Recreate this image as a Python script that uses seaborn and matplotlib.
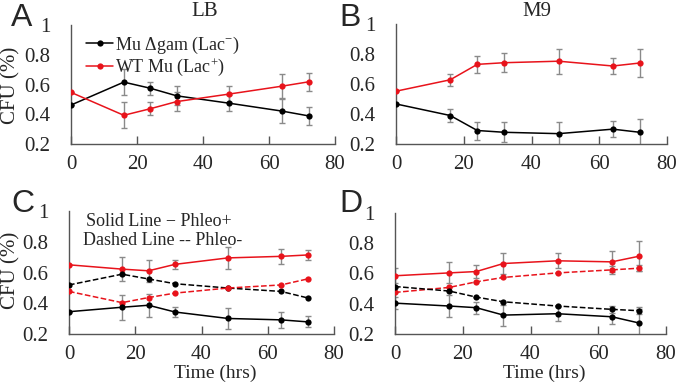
import numpy as np
import pandas as pd
import matplotlib
matplotlib.use("Agg")
import matplotlib.pyplot as plt
import seaborn as sns

sns.set_theme(style="ticks")
plt.rcParams['font.family'] = ['Liberation Serif', 'DejaVu Serif']
plt.rcParams['mathtext.fontset'] = 'custom'
plt.rcParams['mathtext.rm'] = 'Liberation Serif'
plt.rcParams['mathtext.it'] = 'Liberation Serif:italic'

time = [0, 16, 24, 32, 48, 64, 72]

# Panel A (LB)
a_mu = [0.462, 0.616, 0.575, 0.524, 0.474, 0.421, 0.389]
a_mu_err = [0.0, 0.087, 0.045, 0.065, 0.053, 0.08, 0.063]
a_wt = [0.547, 0.393, 0.437, 0.485, 0.536, 0.589, 0.618]
a_wt_err = [0.0, 0.088, 0.044, 0.065, 0.053, 0.08, 0.06]

# Panel B (M9)
b_mu = [0.467, 0.39, 0.29, 0.278, 0.269, 0.299, 0.278]
b_mu_err = [0.0, 0.041, 0.06, 0.067, 0.08, 0.053, 0.09]
b_wt = [0.552, 0.628, 0.731, 0.742, 0.752, 0.72, 0.74]
b_wt_err = [0.0, 0.04, 0.058, 0.064, 0.084, 0.054, 0.095]

# Panel C (LB, phleo)
c_wt_solid = [0.65, 0.622, 0.611, 0.653, 0.695, 0.705, 0.714]
c_wt_solid_err = [0.0, 0.08, 0.07, 0.03, 0.07, 0.05, 0.03]
c_mu_dash = [0.519, 0.589, 0.558, 0.527, 0.499, 0.477, 0.435]
c_wt_dash = [0.477, 0.404, 0.437, 0.466, 0.499, 0.519, 0.558]
c_mu_solid = [0.345, 0.374, 0.387, 0.343, 0.301, 0.292, 0.279]
c_mu_solid_err = [0.0, 0.08, 0.075, 0.033, 0.07, 0.05, 0.035]

# Panel D (M9, phleo)
d_wt_solid = [0.585, 0.604, 0.613, 0.666, 0.684, 0.677, 0.714]
d_wt_solid_err = [0.05, 0.07, 0.04, 0.07, 0.05, 0.07, 0.1]
d_wt_dash = [0.475, 0.508, 0.545, 0.574, 0.604, 0.624, 0.635]
d_wt_dash_err = [0.0, 0.0, 0.0, 0.0, 0.0, 0.025, 0.02]
d_mu_dash = [0.514, 0.484, 0.444, 0.413, 0.385, 0.363, 0.354]
d_mu_dash_err = [0.0, 0.0, 0.0, 0.0, 0.0, 0.022, 0.022]
d_mu_solid = [0.404, 0.385, 0.374, 0.325, 0.334, 0.314, 0.273]
d_mu_solid_err = [0.04, 0.075, 0.04, 0.07, 0.045, 0.05, 0.09]

yticks = [0.2, 0.4, 0.6, 0.8, 1.0]
ytick_labels = ["0.2", "0.4", "0.6", "0.8", "1"]
xticks = [0, 20, 40, 60, 80]

W, H = 677, 384
fig = plt.figure(figsize=(W / 100, H / 100), dpi=100)

def px_axes(left, top, right, bottom):
    return fig.add_axes([left / W, (H - bottom) / H, (right - left) / W, (bottom - top) / H])

def fig_text(x, y, s, **kw):
    return fig.text(x / W, 1 - y / H, s, **kw)

axA = px_axes(71, 25, 335, 144)
axB = px_axes(396, 24, 667, 144)
axC = px_axes(69, 211, 334, 334)
axD = px_axes(395, 213, 666, 334)

RED = "#e8131b"
BLACK = "#000000"
ERR = "#8a8a8a"
FS = 15

def series(ax, y, err, color, dashed=False, label=None):
    df = pd.DataFrame({"t": time, "v": y})
    if err is not None:
        ax.errorbar(time, y, yerr=err, fmt="none", ecolor=ERR, elinewidth=1.0,
                    capsize=2.5, capthick=1.0, zorder=2)
    sns.lineplot(data=df, x="t", y="v", ax=ax, color=color, marker="o",
                 markersize=4.5, markeredgewidth=0, linewidth=1.1,
                 linestyle="--" if dashed else "-", label=label, zorder=3,
                 legend=False)

def style(ax, xlabel=False):
    ax.set_xlim(0, 80)
    ax.set_ylim(0.2, 1.0)
    ax.set_yticks(yticks)
    ax.set_yticklabels(ytick_labels)
    ax.set_xticks(xticks)
    ax.tick_params(axis="y", length=0, pad=15, labelsize=FS)
    ax.tick_params(axis="x", direction="in", length=6, width=1, color="#555555",
                   pad=8, labelsize=FS)
    for s in ["top", "right"]:
        ax.spines[s].set_visible(False)
    for s in ["left", "bottom"]:
        ax.spines[s].set_color("#555555")
        ax.spines[s].set_linewidth(1.0)
    ax.set_xlabel("")
    ax.set_ylabel("")
    if xlabel:
        ax.set_xlabel("Time (hrs)", fontsize=14)
        ax.xaxis.set_label_coords(0.55, -0.25)
    ax.set_facecolor("white")

# A
series(axA, a_mu, a_mu_err, BLACK, label=r"Mu $\Delta$gam (Lac$^{-}$)")
series(axA, a_wt, a_wt_err, RED, label=r"WT Mu (Lac$^{+}$)")
style(axA)
leg = axA.legend(loc="upper left", bbox_to_anchor=(0.03, 0.98), frameon=False,
                 fontsize=13, handlelength=1.5, handletextpad=0.1,
                 labelspacing=0.05, borderaxespad=0)

# B
series(axB, b_wt, b_wt_err, RED)
series(axB, b_mu, b_mu_err, BLACK)
style(axB)

# C
series(axC, c_wt_solid, c_wt_solid_err, RED)
series(axC, c_mu_dash, None, BLACK, dashed=True)
series(axC, c_wt_dash, None, RED, dashed=True)
series(axC, c_mu_solid, c_mu_solid_err, BLACK)
style(axC, xlabel=True)
axC.text(0.064, 0.985, "Solid Line \u2212 Phleo+", transform=axC.transAxes,
         fontsize=13, ha="left", va="top")
axC.text(0.053, 0.83, "Dashed Line -- Phleo-", transform=axC.transAxes,
         fontsize=13, ha="left", va="top")

# D
series(axD, d_wt_solid, d_wt_solid_err, RED)
series(axD, d_wt_dash, d_wt_dash_err, RED, dashed=True)
series(axD, d_mu_dash, d_mu_dash_err, BLACK, dashed=True)
series(axD, d_mu_solid, d_mu_solid_err, BLACK)
style(axD, xlabel=True)

# Titles, panel letters, y labels
fig_text(205, 11, "LB", fontsize=FS, ha="center", va="center")
fig_text(537, 11, "M9", fontsize=FS, ha="center", va="center")
sans = ["Liberation Sans", "DejaVu Sans"]
for (x, y, s) in [(11, 26, "A"), (339, 26, "B"), (11, 212, "C"), (339, 212, "D")]:
    fig_text(x, y, s, fontsize=23, family=sans, ha="left", va="baseline")
fig_text(11, 85, "CFU (%)", fontsize=FS, rotation=90, ha="center", va="center")
fig_text(11, 270, "CFU (%)", fontsize=FS, rotation=90, ha="center", va="center")

fig.savefig("out.png", dpi=100, facecolor="white")
